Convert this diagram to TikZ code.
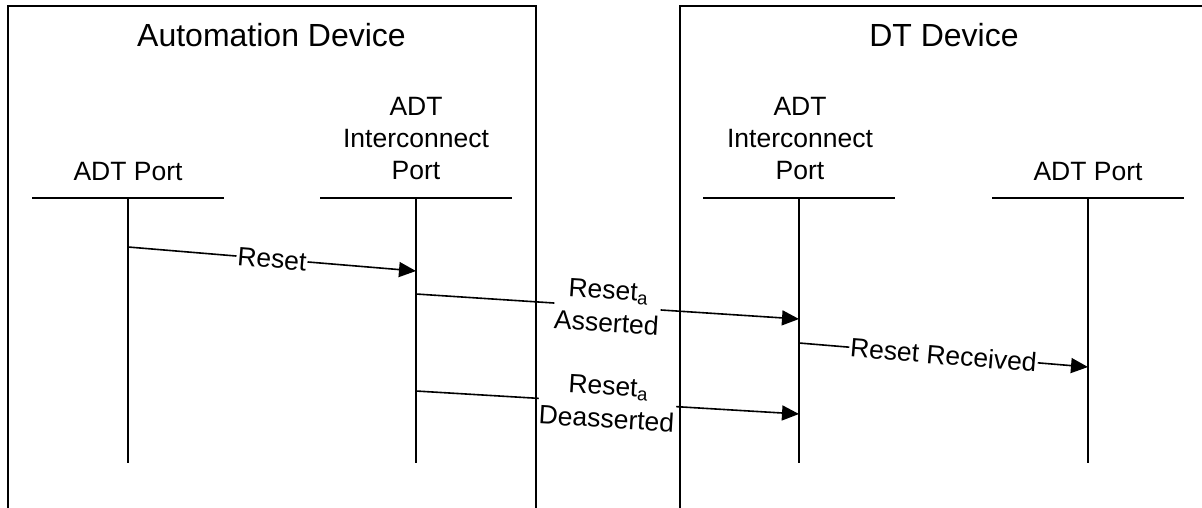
\documentclass[tikz,border=0pt]{standalone}
\usepackage{fontspec}
\setmainfont{Liberation Sans}
\usetikzlibrary{arrows.meta}
\begin{document}
\begin{tikzpicture}[x=1pt,y=-1pt,
  boxline/.style={line width=2.4pt},
  lifeline/.style={line width=2.4pt},
  headline/.style={line width=2pt},
  msg/.style={line width=1.6pt,-{Triangle[length=17pt,width=15pt]}},
  titletext/.style={font=\fontsize{32}{36}\selectfont,inner sep=0pt},
  porttext/.style={font=\fontsize{26.5}{32}\selectfont,inner sep=0pt,align=center},
  msglbl/.style={font=\fontsize{26.5}{33}\selectfont,midway,sloped,fill=white,inner sep=1pt,align=center}
]
\useasboundingbox (0,0) rectangle (1202,507);
\clip (0,0) rectangle (1202,507);
% device frames
\draw[boxline] (8,530) -- (8,6) -- (536,6) -- (536,530);
\draw[boxline] (680,530) -- (680,6) -- (1230,6);
\node[titletext,anchor=base] (adev) at (271.5,46) {Automation Device};
\node[titletext,anchor=base] (dtdev) at (944,46) {DT Device};
% lifeline heads
\node[porttext,anchor=base] (p1) at (128,180) {ADT Port};
\node[porttext,anchor=base] (p2a) at (416,115) {ADT};
\node[porttext,anchor=base] (p2b) at (416,147) {Interconnect};
\node[porttext,anchor=base] (p2c) at (416,179) {Port};
\node[porttext,anchor=base] (p3a) at (800,115) {ADT};
\node[porttext,anchor=base] (p3b) at (800,147) {Interconnect};
\node[porttext,anchor=base] (p3c) at (800,179) {Port};
\node[porttext,anchor=base] (p4) at (1088,180) {ADT Port};
% lifelines
\coordinate (l1t) at (128,198); \coordinate (l1b) at (128,463);
\coordinate (l2t) at (416,198); \coordinate (l2b) at (416,463);
\coordinate (l3t) at (799,198); \coordinate (l3b) at (799,463);
\coordinate (l4t) at (1088,198); \coordinate (l4b) at (1088,463);
\foreach \l in {l1,l2,l3,l4}{
  \draw[headline] ([xshift=-96pt]\l t) -- ([xshift=96pt]\l t);
  \draw[lifeline] (\l t) -- (\l b);
}
% messages
\coordinate (m1s) at (128,247); \coordinate (m1e) at (416,271);
\coordinate (m2s) at (416,294); \coordinate (m2e) at (799,319);
\coordinate (m3s) at (416,391); \coordinate (m3e) at (799,414);
\coordinate (m4s) at (799,343); \coordinate (m4e) at (1088,367);
\draw[msg] (m1s) -- node[msglbl] (t1) {Reset} (m1e);
\draw[msg] (m2s) -- node[msglbl] (t2) {Reset\textsubscript{a}\\Asserted} (m2e);
\draw[msg] (m3s) -- node[msglbl] (t3) {Reset\textsubscript{a}\\Deasserted} (m3e);
\draw[msg] (m4s) -- node[msglbl] (t4) {Reset Received} (m4e);
\end{tikzpicture}
\end{document}
